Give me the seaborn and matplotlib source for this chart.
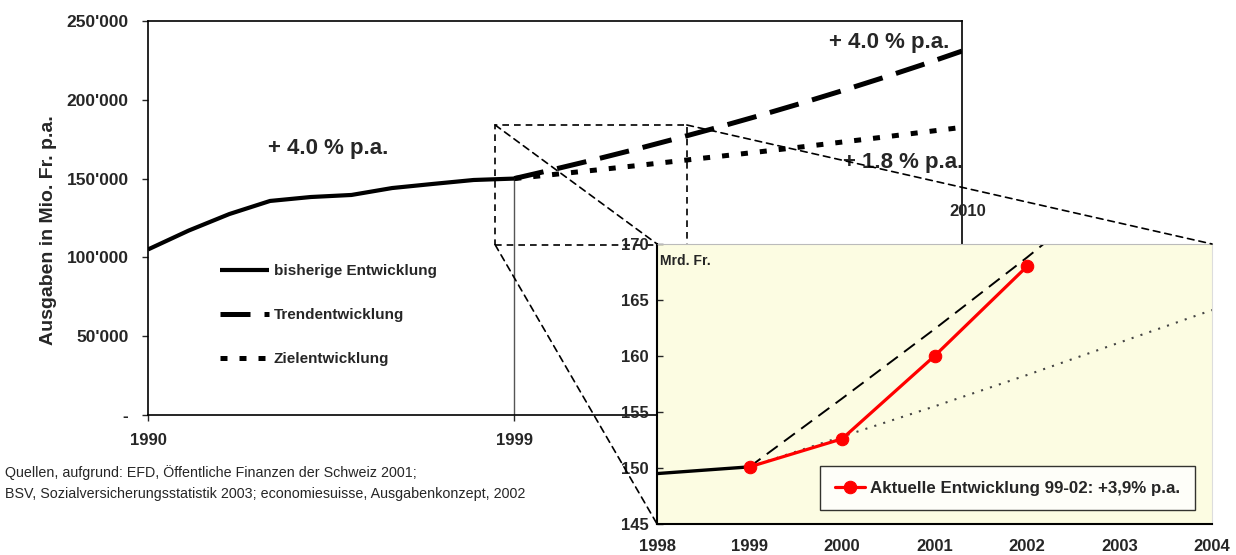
import matplotlib
matplotlib.use('Agg')
import matplotlib.pyplot as plt
from matplotlib import font_manager
from matplotlib.patches import Rectangle, ConnectionPatch
import pandas as pd
import seaborn as sns

# ── Data ──────────────────────────────────────────────────────
HIST_YEARS = [1990, 1991, 1992, 1993, 1994, 1995, 1996, 1997, 1998, 1999]
HIST_VALUES = [105000, 117000, 127500, 135800, 138300, 139600, 144000, 146600, 149100, 150000]

PROJ_YEARS = [1999, 2000, 2001, 2002, 2003, 2004, 2005, 2006, 2007, 2008, 2009, 2010]
TREND_VALUES = [150000, 156000, 162200, 168700, 175500, 182500, 189800, 197400, 205300, 213500, 222000, 230900]
TARGET_VALUES = [150000, 152700, 155400, 158200, 161100, 164000, 166900, 169900, 173000, 176100, 179300, 182500]

Y_TICKS = [0, 50000, 100000, 150000, 200000, 250000]
Y_TICK_LABELS = ['-', "50'000", "100'000", "150'000", "200'000", "250'000"]

# inset (Mrd. Fr.)
IN_HIST_YEARS = [1998, 1999]
IN_HIST_VALUES = [149.5, 150.1]
IN_ACT_YEARS = [1999, 2000, 2001, 2002]
IN_ACT_VALUES = [150.1, 152.6, 160.0, 168.0]
IN_TREND_YEARS = [1999, 2000, 2001, 2002, 2003]
IN_TREND_VALUES = [150.1, 156.2, 162.4, 168.8, 175.5]
IN_TARGET_YEARS = [1999, 2000, 2001, 2002, 2003, 2004]
IN_TARGET_VALUES = [150.1, 152.8, 155.5, 158.3, 161.2, 164.1]
IN_X_TICKS = [1998, 1999, 2000, 2001, 2002, 2003, 2004]
IN_Y_TICKS = [145, 150, 155, 160, 165, 170]

SOURCE = ("Quellen, aufgrund: EFD, Öffentliche Finanzen der Schweiz 2001;\n"
          "BSV, Sozialversicherungsstatistik 2003; economiesuisse, Ausgabenkonzept, 2002")

# ── Style ─────────────────────────────────────────────────────
sns.set_style('white')
names = {f.name for f in font_manager.fontManager.ttflist}
NARROW = 'Liberation Sans Narrow' if 'Liberation Sans Narrow' in names else 'Liberation Sans'
plt.rcParams['font.family'] = ['Liberation Sans', 'DejaVu Sans']

INSET_BG = '#FCFCE2'
RED = '#FF0000'

hist = pd.DataFrame({'year': HIST_YEARS, 'value': HIST_VALUES})
proj = pd.DataFrame({'year': PROJ_YEARS, 'trend': TREND_VALUES, 'target': TARGET_VALUES})

fig = plt.figure(figsize=(12.36, 5.55), dpi=100, facecolor='white')
ax = fig.add_axes([0.1197, 0.2523, 0.6586, 0.7099])

sns.lineplot(data=hist, x='year', y='value', ax=ax, color='black', linewidth=3.0,
             label='bisherige Entwicklung', solid_capstyle='butt')
sns.lineplot(data=proj, x='year', y='trend', ax=ax, color='black', linewidth=3.6,
             linestyle=(0, (6, 2.8)), label='Trendentwicklung')
sns.lineplot(data=proj, x='year', y='target', ax=ax, color='black', linewidth=3.6,
             linestyle=(0, (1.4, 2.4)), label='Zielentwicklung')

ax.vlines(1999, 0, HIST_VALUES[-1], color='#555555', linewidth=1.0, zorder=1)

ax.set_xlim(1990, 2010)
ax.set_ylim(0, 250000)
ax.set_yticks(Y_TICKS)
ax.set_yticklabels(Y_TICK_LABELS, fontweight='bold', fontsize=12.5)
ax.set_xticks([1990, 1999])
ax.set_xticklabels(['1990', '1999'], fontweight='bold', fontsize=12)
ax.tick_params(axis='y', direction='out', length=4, width=1, pad=10, left=True)
ax.tick_params(axis='x', direction='out', length=4, width=1, pad=9, bottom=True)
ax.set_xlabel('')
ax.set_ylabel('Ausgaben in Mio. Fr. p.a.', fontweight='bold', fontsize=14)
ax.yaxis.set_label_coords(-0.112, 0.47)
for s in ax.spines.values():
    s.set_color('black')
    s.set_linewidth(1.2)

ax.text(2010.15, 129400, '2010', ha='center', va='center', fontweight='bold', fontsize=12, clip_on=False)
ax.text(1992.95, 169400, '+ 4.0 % p.a.', ha='left', va='center', fontweight='bold', fontsize=16)
ax.text(2008.2, 236500, '+ 4.0 % p.a.', ha='center', va='center', fontweight='bold', fontsize=16)
ax.text(2008.55, 160000, '+ 1.8 % p.a.', ha='center', va='center', fontweight='bold', fontsize=16)

leg = ax.legend(loc='upper left', bbox_to_anchor=(0.085, 0.39), frameon=False,
                fontsize=11, handlelength=3.2, handletextpad=0.3, labelspacing=1.95,
                borderaxespad=0, borderpad=0.2)
for t in leg.get_texts():
    t.set_fontweight('bold')

# zoom rectangle on main chart
R_X0, R_X1, R_Y0, R_Y1 = 1998.53, 2003.24, 108000, 184000
ax.add_patch(Rectangle((R_X0, R_Y0), R_X1 - R_X0, R_Y1 - R_Y0, fill=False,
                       edgecolor='black', linewidth=1.2, linestyle=(0, (4, 3)), zorder=3))

# ── Inset ─────────────────────────────────────────────────────
ins = fig.add_axes([0.5316, 0.0559, 0.449, 0.5045])
ins.set_facecolor(INSET_BG)
sns.lineplot(x=IN_HIST_YEARS, y=IN_HIST_VALUES, ax=ins, color='black', linewidth=2.4)
sns.lineplot(x=IN_TREND_YEARS, y=IN_TREND_VALUES, ax=ins, color='black', linewidth=1.4,
             linestyle=(0, (7, 4)))
sns.lineplot(x=IN_TARGET_YEARS, y=IN_TARGET_VALUES, ax=ins, color='#444444', linewidth=1.5,
             linestyle=(0, (1, 3.5)))
sns.lineplot(x=IN_ACT_YEARS, y=IN_ACT_VALUES, ax=ins, color=RED, linewidth=2.3, marker='o',
             markersize=9, markeredgecolor=RED, label='Aktuelle Entwicklung 99-02: +3,9% p.a.')
ins.set_xlim(1998, 2004)
ins.set_ylim(145, 170)
ins.set_xticks(IN_X_TICKS)
ins.set_xticklabels([str(v) for v in IN_X_TICKS], fontweight='bold', fontsize=12)
ins.set_yticks(IN_Y_TICKS)
ins.set_yticklabels([str(v) for v in IN_Y_TICKS], fontweight='bold', fontsize=12)
ins.tick_params(axis='y', direction='in', length=4, width=1, pad=6, left=True)
ins.tick_params(axis='x', length=0, pad=11)
ins.set_xlabel('')
ins.set_ylabel('')
ins.spines['left'].set_color('black')
ins.spines['bottom'].set_color('black')
ins.spines['left'].set_linewidth(1.5)
ins.spines['bottom'].set_linewidth(1.5)
ins.spines['top'].set_color('#BBBBBB')
ins.spines['right'].set_color('#DDDDDD')
ins.text(0.006, 0.965, 'Mrd. Fr.', transform=ins.transAxes, ha='left', va='top',
         fontweight='bold', fontsize=10)
ileg = ins.legend(loc='lower right', bbox_to_anchor=(0.969, 0.05), frameon=True, fancybox=False,
                  fontsize=12.2, handlelength=1.8, handletextpad=0.3, borderpad=0.85,
                  borderaxespad=0)
ileg.get_frame().set_edgecolor('black')
ileg.get_frame().set_linewidth(1.0)
for t in ileg.get_texts():
    t.set_fontweight('bold')

# connectors from zoom rectangle to inset corners
for (xa, ya), (xb, yb) in [((R_X0, R_Y1), (0, 1)), ((R_X0, R_Y0), (0, 0)), ((R_X1, R_Y1), (1, 1))]:
    con = ConnectionPatch(xyA=(xa, ya), coordsA=ax.transData, xyB=(xb, yb), coordsB=ins.transAxes,
                          color='black', linewidth=1.2, linestyle=(0, (4, 3)), zorder=5)
    fig.add_artist(con)

fig.text(0.004, 1 - 483 / 555, SOURCE, ha='left', va='center', fontsize=10.3,
         family=[NARROW, 'DejaVu Sans'], linespacing=1.6)

plt.savefig('out.png', dpi=100, facecolor='white')
print('Saved → out.png')
